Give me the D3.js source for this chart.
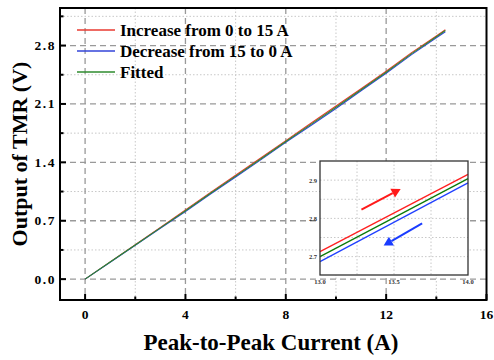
<!DOCTYPE html>
<html><head><meta charset="utf-8">
<script src="https://cdn.jsdelivr.net/npm/d3@7"></script>
<style>body{margin:0;background:#fff}svg{display:block}text{font-family:"Liberation Serif","Times New Roman",serif;font-weight:bold}</style>
</head><body><svg id="c" width="494" height="360"></svg>
<script>
// ---- data ----
const currentA = [0,1,2,3,4,5,6,7,8,9,10,11,12,13,14,14.36];
const increaseV = [0,0.207,0.413,0.62,0.83,1.04,1.245,1.452,1.66,1.868,2.075,2.283,2.492,2.712,2.915,2.99];
const decreaseV = [0,0.203,0.407,0.61,0.81,1.02,1.225,1.43,1.64,1.842,2.045,2.258,2.468,2.688,2.893,2.965];
const fittedV   = [0,0.205,0.41,0.615,0.82,1.03,1.235,1.44,1.65,1.855,2.06,2.27,2.48,2.70,2.905,2.98];
const seriesNames = ["Increase from 0 to 15 A","Decrease from 15 to 0 A","Fitted"];
const xTicks = [0,4,8,12,16];
const xMinor = [2,6,10,14];
const yTicks = [0,0.7,1.4,2.1,2.8];
const yMinor = [0.35,1.05,1.75,2.45,3.15];
// inset
const insetX = [13,14];
const insetInc = [2.713,2.915];
const insetDec = [2.687,2.893];
const insetFit = [2.700,2.904];
const insetXTicks = [13.0,13.5,14.0];
const insetXGrid = [13.25,13.5,13.75];
const insetYTicks = [2.7,2.8,2.9];
const insetYGrid = [2.7,2.75,2.8,2.85,2.9];
const arrowInc = [[13.28,2.823],[13.545,2.877]];
const arrowDec = [[13.69,2.787],[13.43,2.729]];

const colors = ["#e83a30","#3344d8","#2e8b2e"];
const insetColors = ["#ff2020","#2040ff","#0a7a0a"];

const svg = d3.select("#c");
const L=60,R=486.5,T=8,B=300;
const x = d3.scaleLinear().domain([-1,16]).range([L,R]);
const y = d3.scaleLinear().domain([-0.25,3.25]).range([B,T]);

// grid
const g = svg.append("g");
g.selectAll(".mxg").data(xMinor).join("line").attr("x1",d=>x(d)).attr("x2",d=>x(d)).attr("y1",T).attr("y2",B)
 .attr("stroke","#c8c8c8").attr("stroke-dasharray","1.5,2").attr("stroke-width",1);
g.selectAll(".myg").data(yMinor).join("line").attr("y1",d=>y(d)).attr("y2",d=>y(d)).attr("x1",L).attr("x2",R)
 .attr("stroke","#c8c8c8").attr("stroke-dasharray","1.5,2").attr("stroke-width",1);
g.selectAll(".Mxg").data(xTicks.filter(d=>d<16)).join("line").attr("x1",d=>x(d)).attr("x2",d=>x(d)).attr("y1",T).attr("y2",B)
 .attr("stroke","#999").attr("stroke-dasharray","6,4").attr("stroke-width",1.3);
g.selectAll(".Myg").data(yTicks).join("line").attr("y1",d=>y(d)).attr("y2",d=>y(d)).attr("x1",L).attr("x2",R)
 .attr("stroke","#999").attr("stroke-dasharray","6,4").attr("stroke-width",1.3);

// lines
const line = d3.line().x(d=>x(d[0])).y(d=>y(d[1]));
const mainSeries = [increaseV, decreaseV, fittedV];
[0,1,2].forEach(i=>{
  svg.append("path").datum(currentA.map((c,j)=>[c,mainSeries[i][j]]))
    .attr("d",line).attr("fill","none").attr("stroke",colors[i]).attr("stroke-width",1.1);
});

// frame
svg.append("rect").attr("x",L).attr("y",T).attr("width",R-L).attr("height",B-T)
  .attr("fill","none").attr("stroke","#000").attr("stroke-width",2);

// ticks
const tk = svg.append("g");
tk.selectAll(".xt").data(xTicks).join("line").attr("x1",d=>x(d)).attr("x2",d=>x(d)).attr("y1",B).attr("y2",B-6).attr("stroke","#000").attr("stroke-width",2);
tk.selectAll(".xm").data(xMinor).join("line").attr("x1",d=>x(d)).attr("x2",d=>x(d)).attr("y1",B).attr("y2",B-3.5).attr("stroke","#000").attr("stroke-width",2);
tk.selectAll(".yt").data(yTicks).join("line").attr("y1",d=>y(d)).attr("y2",d=>y(d)).attr("x1",L).attr("x2",L+6).attr("stroke","#000").attr("stroke-width",2);
tk.selectAll(".ym").data(yMinor).join("line").attr("y1",d=>y(d)).attr("y2",d=>y(d)).attr("x1",L).attr("x2",L+3.5).attr("stroke","#000").attr("stroke-width",2);
tk.selectAll(".xl").data(xTicks).join("text").attr("x",d=>x(d)).attr("y",318.5).attr("text-anchor","middle")
  .attr("font-size",13.5).text(d=>d);
tk.selectAll(".yl").data(yTicks).join("text").attr("x",54.5).attr("y",d=>y(d)+4.5).attr("text-anchor","end")
  .attr("font-size",13.5).attr("textLength",20).text(d=>d.toFixed(1));

// titles
svg.append("text").attr("x",271).attr("y",350).attr("text-anchor","middle").attr("font-size",23).text("Peak-to-Peak Current (A)");
svg.append("text").attr("transform","translate(27,154) rotate(-90)").attr("text-anchor","middle").attr("font-size",22).text("Output of TMR (V)");

// legend
const lg = svg.append("g");
seriesNames.forEach((n,i)=>{
  const yy = 30 + i*21;
  lg.append("line").attr("x1",77).attr("x2",115).attr("y1",yy).attr("y2",yy).attr("stroke",colors[i]).attr("stroke-width",1.3);
  lg.append("text").attr("x",120).attr("y",yy+5.5).attr("font-size",17).text(n);
});

// inset
const IL=320,IR=468,IT=161,IB=275;
const ix = d3.scaleLinear().domain([13,14]).range([IL,IR]);
const iy = d3.scaleLinear().domain([2.652,2.95]).range([IB,IT]);
const ig = svg.append("g");
ig.append("rect").attr("x",IL).attr("y",IT).attr("width",IR-IL).attr("height",IB-IT).attr("fill","#fff");
ig.selectAll(".ixg").data(insetXGrid).join("line").attr("x1",d=>ix(d)).attr("x2",d=>ix(d)).attr("y1",IT).attr("y2",IB)
  .attr("stroke","#c8c8c8").attr("stroke-dasharray","1.5,2");
ig.selectAll(".iyg").data(insetYGrid).join("line").attr("y1",d=>iy(d)).attr("y2",d=>iy(d)).attr("x1",IL).attr("x2",IR)
  .attr("stroke","#c8c8c8").attr("stroke-dasharray","1.5,2");
const iline = d3.line().x(d=>ix(d[0])).y(d=>iy(d[1]));
const insetSeries=[insetInc,insetDec,insetFit];
[0,1,2].forEach(i=>{
  ig.append("path").datum(insetX.map((c,j)=>[c,insetSeries[i][j]])).attr("d",iline)
    .attr("fill","none").attr("stroke",insetColors[i]).attr("stroke-width",1.3);
});
ig.append("rect").attr("x",IL).attr("y",IT).attr("width",IR-IL).attr("height",IB-IT).attr("fill","none").attr("stroke","#333").attr("stroke-width",1.3);
ig.selectAll(".ixl").data(insetXTicks).join("text").attr("x",d=>ix(d)).attr("y",IB+9).attr("text-anchor","middle")
  .attr("font-size",6.5).attr("fill","#333").text(d=>d.toFixed(1));
ig.selectAll(".iyl").data(insetYTicks).join("text").attr("x",IL-3).attr("y",d=>iy(d)+2.5).attr("text-anchor","end")
  .attr("font-size",6.5).attr("fill","#333").text(d=>d.toFixed(1));

function arrow(pts,color){
  const x1=ix(pts[0][0]),y1=iy(pts[0][1]),x2=ix(pts[1][0]),y2=iy(pts[1][1]);
  const a=Math.atan2(y2-y1,x2-x1), hl=9, hw=5;
  const bx=x2-hl*Math.cos(a), by=y2-hl*Math.sin(a);
  ig.append("line").attr("x1",x1).attr("y1",y1).attr("x2",bx).attr("y2",by).attr("stroke",color).attr("stroke-width",2);
  ig.append("path").attr("d",`M${x2},${y2}L${bx+hw*Math.sin(a)},${by-hw*Math.cos(a)}L${bx-hw*Math.sin(a)},${by+hw*Math.cos(a)}Z`).attr("fill",color);
}
arrow(arrowInc,"#ff1a1a");
arrow(arrowDec,"#1a3cff");
</script></body></html>
